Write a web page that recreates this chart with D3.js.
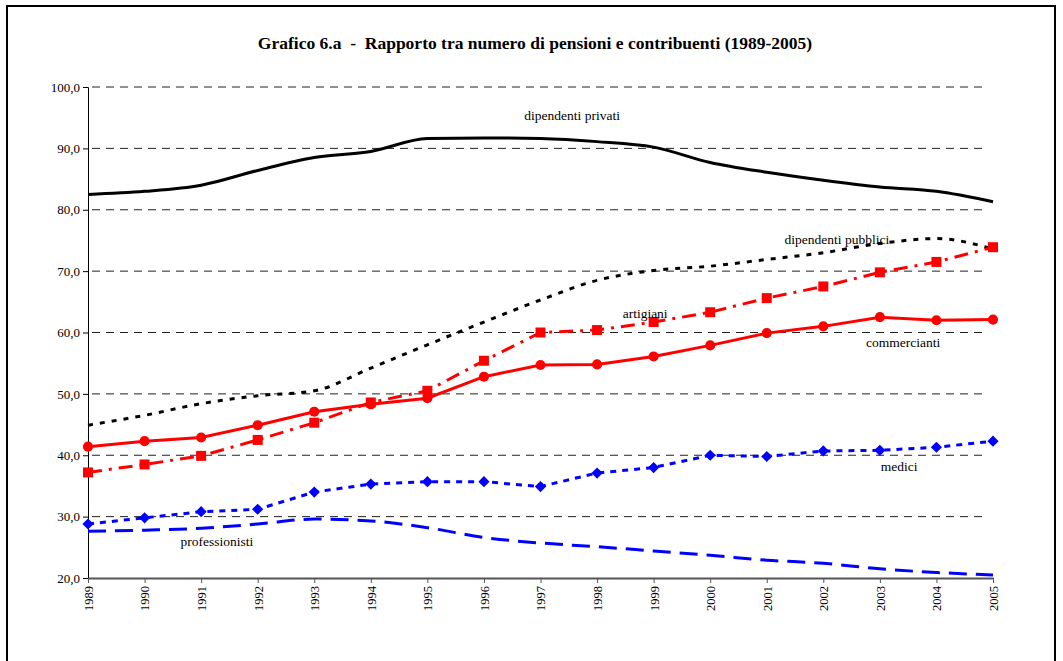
<!DOCTYPE html>
<html>
<head>
<meta charset="utf-8">
<script src="https://cdn.jsdelivr.net/npm/d3@7"></script>
<style>
  body { margin: 0; background: #fff; }
  svg text { font-family: "Liberation Serif", "DejaVu Serif", serif !important; }
</style>
</head>
<body>
<div id="chart"></div>
<script>
// Years and values
const years = d3.range(1989, 2006);
const privati =       [82.5, 83.0, 84.0, 86.4, 88.5, 89.5, 91.6, 91.7, 91.6, 91.1, 90.2, 87.7, 86.1, 84.8, 83.7, 83.0, 81.3];
const pubblici =      [44.9, 46.5, 48.4, 49.7, 50.5, 54.2, 58.0, 61.7, 65.3, 68.5, 70.1, 70.8, 71.9, 73.0, 74.5, 75.3, 73.6];
const artigiani =     [37.2, 38.5, 39.9, 42.5, 45.3, 48.6, 50.5, 55.4, 60.0, 60.4, 61.7, 63.3, 65.6, 67.5, 69.8, 71.5, 73.9];
const commercianti =  [41.4, 42.3, 42.9, 44.9, 47.1, 48.3, 49.3, 52.8, 54.7, 54.8, 56.1, 57.9, 59.9, 61.0, 62.5, 62.0, 62.1];
const medici =        [28.8, 29.8, 30.8, 31.2, 34.0, 35.3, 35.7, 35.7, 34.9, 37.1, 38.0, 40.0, 39.8, 40.7, 40.8, 41.3, 42.3];
const professionisti = [27.6, 27.8, 28.1, 28.8, 29.6, 29.3, 28.2, 26.6, 25.7, 25.1, 24.4, 23.7, 22.9, 22.4, 21.5, 20.9, 20.5];
const yTicks = [20, 30, 40, 50, 60, 70, 80, 90, 100];

const width = 1063, height = 661;
const margin = { left: 88, right: 70, top: 87, bottom: 83 };
const serif = "'Liberation Serif', 'DejaVu Serif', serif";

const svg = d3.select("#chart").append("svg")
    .attr("width", width)
    .attr("height", height)
    .attr("font-family", serif);

// outer frame
svg.append("rect")
    .attr("x", 7).attr("y", 6)
    .attr("width", 1048).attr("height", 700)
    .attr("fill", "none")
    .attr("stroke", "#000")
    .attr("stroke-width", 2);

svg.append("text")
    .attr("x", 535).attr("y", 49)
    .attr("text-anchor", "middle")
    .attr("font-size", 17.5)
    .attr("font-weight", "bold")
    .attr("font-family", serif)
    .attr("xml:space", "preserve")
    .text("Grafico 6.a  -  Rapporto tra numero di pensioni e contribuenti (1989-2005)");

const x = d3.scaleLinear().domain([1989, 2005]).range([margin.left, width - margin.right]);
const y = d3.scaleLinear().domain([20, 100]).range([height - margin.bottom, margin.top]);

// dashed gridlines
svg.append("g").selectAll("line")
    .data(yTicks.filter(t => t > 20))
    .join("line")
    .attr("x1", x(1989) + 4).attr("x2", x(2005) - 6)
    .attr("y1", d => y(d)).attr("y2", d => y(d))
    .attr("stroke", "#222")
    .attr("stroke-width", 1)
    .attr("stroke-dasharray", "8,6");

// y axis
const fmt = d => d3.format(".1f")(d).replace(".", ",");
const yAxis = svg.append("g")
    .attr("transform", `translate(${x(1989)},0)`)
    .call(d3.axisLeft(y).tickValues(yTicks).tickFormat(fmt).tickSize(5).tickPadding(3));
yAxis.attr("font-family", serif);
yAxis.select(".domain").attr("stroke", "#000");
yAxis.selectAll("text").attr("font-size", 13).attr("fill", "#000");

// x axis
const xAxis = svg.append("g")
    .attr("transform", `translate(0,${y(20)})`)
    .call(d3.axisBottom(x).tickValues(years).tickFormat(d3.format("d")).tickSize(5).tickSizeOuter(0));
xAxis.attr("font-family", serif);
xAxis.select(".domain").attr("stroke", "#555").attr("stroke-width", 2);
xAxis.selectAll("line").attr("stroke", "#555");
xAxis.selectAll("text")
    .attr("font-size", 12.5)
    .attr("fill", "#000")
    .attr("text-anchor", "end")
    .attr("transform", "rotate(-90)")
    .attr("x", -8).attr("y", 0).attr("dy", "0.35em");

const series = [
  { name: "dipendenti privati", values: privati, color: "#000", dash: null, curve: d3.curveMonotoneX, marker: null },
  { name: "dipendenti pubblici", values: pubblici, color: "#000", dash: "5,7", curve: d3.curveMonotoneX, marker: null },
  { name: "professionisti", values: professionisti, color: "#0000ff", dash: "18,9", curve: d3.curveMonotoneX, marker: null },
  { name: "medici", values: medici, color: "#0000ff", dash: "6,6", curve: d3.curveLinear, marker: "diamond" },
  { name: "artigiani", values: artigiani, color: "#ff0000", dash: "14,7,3,7", curve: d3.curveLinear, marker: "square" },
  { name: "commercianti", values: commercianti, color: "#ff0000", dash: null, curve: d3.curveLinear, marker: "circle" }
];

series.forEach(s => {
  const pts = years.map((yr, i) => [yr, s.values[i]]);
  const line = d3.line().x(d => x(d[0])).y(d => y(d[1])).curve(s.curve);
  svg.append("path")
      .datum(pts)
      .attr("fill", "none")
      .attr("stroke", s.color)
      .attr("stroke-width", 3)
      .attr("stroke-dasharray", s.dash)
      .attr("d", line);

  if (s.marker) {
    const sym = s.marker === "circle" ? d3.symbolCircle : s.marker === "square" ? d3.symbolSquare : d3.symbolDiamond2;
    const size = s.marker === "circle" ? 80 : s.marker === "square" ? 100 : 80;
    svg.append("g").selectAll("path")
        .data(pts)
        .join("path")
        .attr("transform", d => `translate(${x(d[0])},${y(d[1])})`)
        .attr("d", d3.symbol(sym, size))
        .attr("fill", s.color);
  }
});

// series labels (anchored in data units)
const labelNames = ["dipendenti privati", "dipendenti pubblici", "artigiani", "commercianti", "medici", "professionisti"];
const labelYears = [1997.56, 2002.24, 1998.85, 2003.41, 2003.34, 1991.28];
const labelValues = [94.7, 74.5, 62.4, 57.7, 37.5, 25.2];

svg.append("g").selectAll("text")
    .data(labelNames)
    .join("text")
    .attr("x", (d, i) => x(labelYears[i]))
    .attr("y", (d, i) => y(labelValues[i]))
    .attr("text-anchor", "middle")
    .attr("font-size", 13.5)
    .attr("font-family", serif)
    .attr("fill", "#000")
    .text(d => d);
</script>
</body>
</html>
